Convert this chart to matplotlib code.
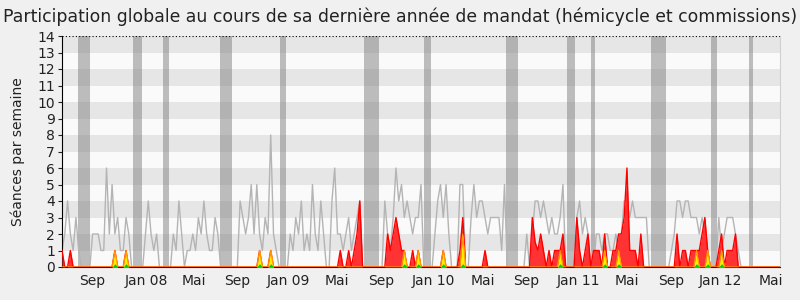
import matplotlib
matplotlib.use("Agg")
import matplotlib.pyplot as plt
import numpy as np

# presence per week (grey line), one value per week from mid-June 2007
presence = [1, 2, 4, 2, 1, 3, 1, 0, 0, 0, 0, 2, 2, 2, 1, 1, 6, 2, 5, 2,
            3, 1, 1, 3, 2, 0, 0, 0, 0, 0, 2, 4, 2, 1, 2, 0, 0, 0, 0, 0,
            2, 1, 4, 2, 0, 1, 1, 2, 1, 3, 2, 4, 2, 1, 1, 3, 2, 0, 0, 0,
            0, 0, 0, 0, 4, 3, 2, 3, 5, 2, 5, 2, 1, 3, 2, 8, 2, 1, 0, 0,
            0, 0, 2, 1, 3, 2, 4, 1, 2, 1, 5, 2, 1, 4, 2, 0, 0, 4, 6, 2,
            2, 1, 2, 3, 1, 2, 3, 4, 0, 0, 0, 0, 0, 0, 0, 0, 4, 2, 1, 3,
            6, 4, 5, 3, 4, 3, 2, 3, 3, 5, 0, 0, 0, 0, 2, 4, 5, 3, 5, 2,
            0, 0, 0, 5, 5, 0, 0, 3, 5, 3, 4, 4, 3, 2, 3, 3, 3, 3, 1, 5,
            0, 0, 0, 0, 0, 0, 0, 2, 0, 2, 4, 4, 3, 4, 3, 2, 3, 2, 2, 3,
            5, 0, 0, 0, 0, 3, 4, 2, 3, 2, 0, 0, 2, 2, 1, 2, 2, 1, 1, 2,
            1, 2, 4, 4, 3, 4, 3, 3, 3, 3, 3, 0, 0, 0, 0, 0, 0, 0, 0, 1,
            2, 4, 4, 3, 4, 4, 3, 3, 3, 2, 3, 2, 1, 0, 0, 0, 3, 1, 2, 3,
            3, 3, 2, 1, 0, 0, 0, 0, 0, 0, 0, 0, 0, 0, 0, 0, 0, 0, 0]

# participation (red area): week index -> value
part_weeks = [0, 3, 19, 23, 71, 75, 100, 103, 105, 106, 107, 117, 118, 119, 120,
              121, 122, 123, 126, 128, 137, 143, 144, 152, 169, 170, 171, 172,
              173, 175, 177, 178, 179, 180, 185, 186, 188, 189, 191, 192, 193,
              195, 198, 199, 200, 201, 202, 203, 204, 205, 206, 208, 221, 223,
              224, 226, 227, 228, 229, 230, 231, 232, 236, 237, 239, 240, 241, 242]
part_vals = [1, 1, 1, 1, 1, 1, 1, 1, 1, 2, 4, 2, 1, 2, 3,
             2, 1, 1, 1, 1, 1, 1, 3, 1, 3, 1.5, 1, 2,
             1, 1, 1, 1, 1, 2, 3, 1, 1, 2, 1, 1, 1,
             2, 1, 1, 2, 2, 3, 6, 1, 1, 1, 2, 2, 1,
             1, 1, 1, 1, 1, 2, 3, 1, 1, 2, 1, 1, 1, 2]

# interventions (yellow) and questions (green)
interv_weeks = [19, 23, 71, 75, 123, 128, 137, 144, 179, 195, 200, 228, 232, 237]
interv_vals = [1, 1, 1, 1, 1, 1, 1, 2, 1, 1, 1, 1, 1, 1]
quest_vals = [0.2, 0.2, 0.2, 0.2, 0.2, 0.2, 0.2, 0.2, 0.2, 0.2, 0.2, 0.2, 0.2, 0.2]

# holidays (grey bands), in weeks
vac_start = [5.8, 25.5, 36.3, 56.8, 78.4, 108.6, 130.2, 159.7, 181.3, 190.0, 211.5, 233.1, 246.8]
vac_end = [10.1, 28.8, 38.5, 61.2, 80.6, 114.0, 132.7, 164.0, 184.5, 191.4, 216.9, 235.3, 248.2]

tick_pos = [11.0, 30.2, 47.4, 63.1, 81.4, 98.8, 114.8, 133.4, 151.2, 166.7, 185.4, 202.8, 218.8, 236.6, 254.7]
tick_lab = ["Sep", "Jan 08", "Mai", "Sep", "Jan 09", "Mai", "Sep", "Jan 10", "Mai",
            "Sep", "Jan 11", "Mai", "Sep", "Jan 12", "Mai"]

n = len(presence)
weeks = np.arange(n)
part = np.zeros(n)
part[part_weeks] = part_vals
interv = np.zeros(n)
interv[interv_weeks] = interv_vals
quest = np.zeros(n)
quest[interv_weeks] = quest_vals

fig = plt.figure(figsize=(8, 3), dpi=100, facecolor="#f0f0f0")
ax = fig.add_axes([0.0775, 0.11, 0.8975, 0.77])
ax.set_facecolor("#fafafa")

for k in range(1, 14, 2):
    ax.axhspan(k, k + 1, color="#e6e6e6", lw=0, zorder=0)
for a, b in zip(vac_start, vac_end):
    ax.axvspan(a, b, color="#808080", alpha=0.5, lw=0, zorder=1)

ax.plot(weeks, presence, color="#b4b4b4", lw=1, zorder=2)
ax.fill_between(weeks, part, color="#ff3333", lw=0, zorder=3)
ax.plot(weeks, part, color="#ff0000", lw=1, zorder=3)
ax.fill_between(weeks, interv, color="#ffee00", lw=0, zorder=4)
ax.plot(weeks, interv, color="#ff9900", lw=0.8, zorder=4)
ax.fill_between(weeks, quest, color="#00cc00", lw=0, zorder=5)

ax.axhline(14, color="black", ls=(0, (1, 2)), lw=0.8, zorder=6)

ax.set_xlim(0, n - 1)
ax.set_ylim(0, 14)
ax.set_yticks(range(15))
ax.set_xticks(tick_pos)
ax.set_xticklabels(tick_lab)
ax.tick_params(axis="x", length=0, pad=5, labelsize=10, colors="#222222")
ax.tick_params(axis="y", length=3, pad=2, labelsize=10, colors="#222222")
ax.spines["top"].set_visible(False)
ax.spines["right"].set_color("#d0d0d0")
ax.spines["bottom"].set_color("#600000")
ax.set_ylabel("Séances par semaine", fontsize=10, color="#222222", labelpad=9)

fig.text(0.5, 0.943, "Participation globale au cours de sa dernière année de mandat (hémicycle et commissions)",
         ha="center", va="center", fontsize=12.4, color="#222222")

fig.savefig("out.png", dpi=100, facecolor=fig.get_facecolor())
